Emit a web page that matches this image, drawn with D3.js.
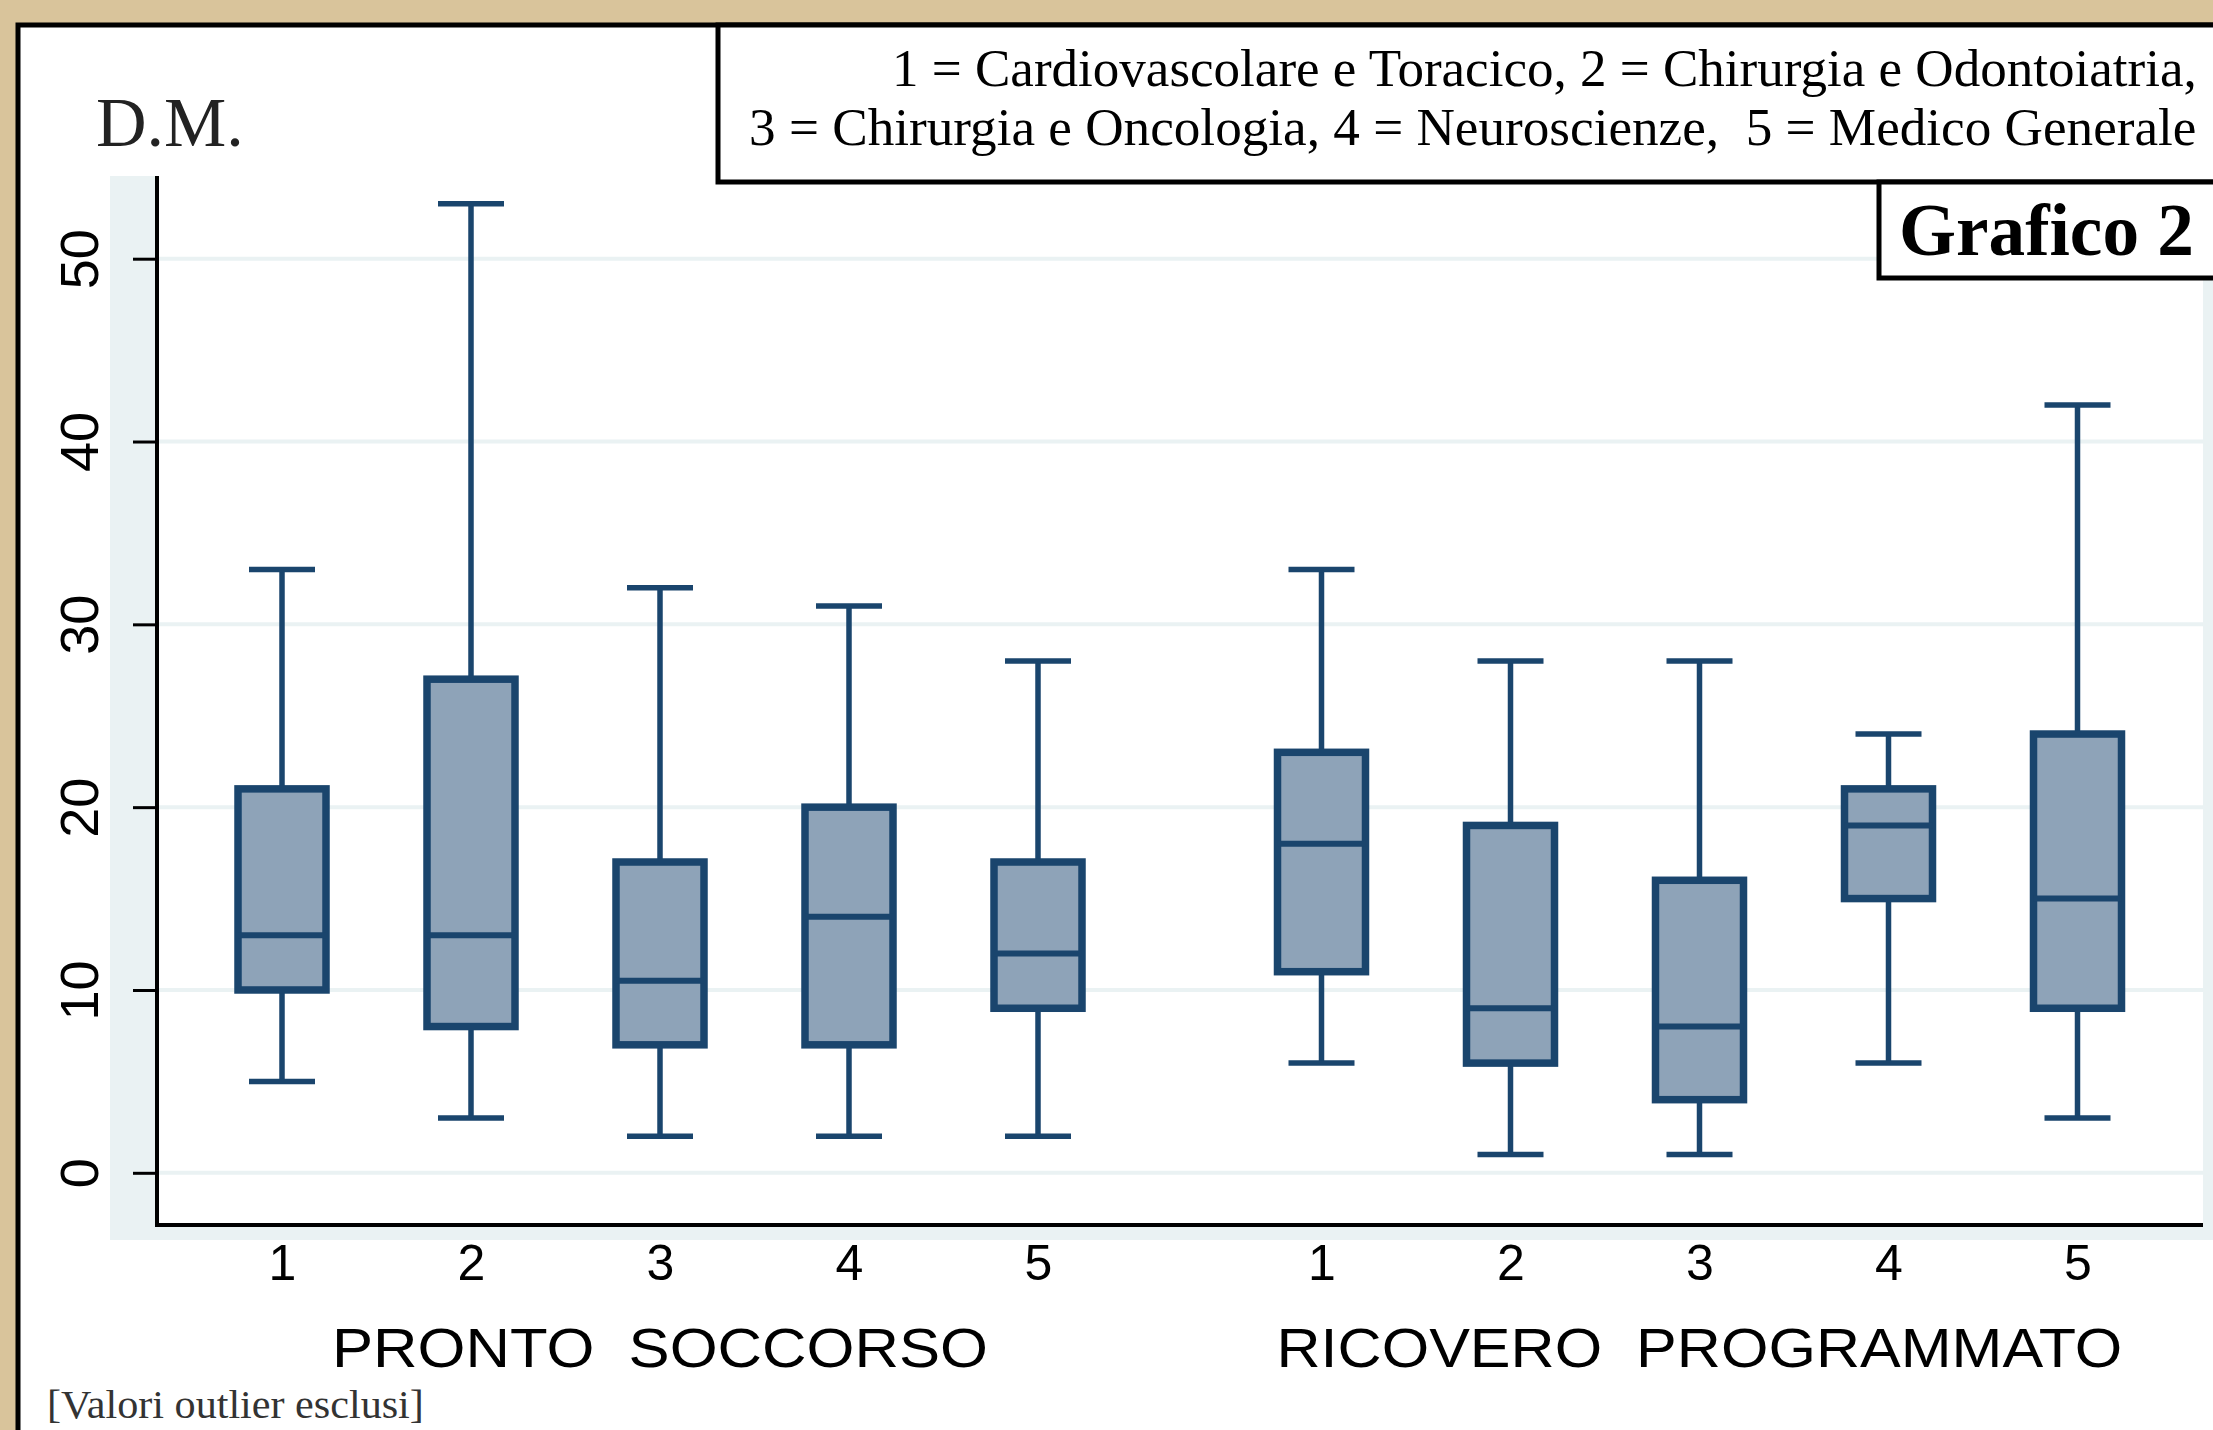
<!DOCTYPE html>
<html lang="it">
<head>
  <meta charset="UTF-8">
  <title>Grafico 2</title>
  <script src="https://cdn.jsdelivr.net/npm/d3@7"></script>
  <style>
    body { margin: 0; background: #d9c49b; }
    svg { display: block; }
  </style>
</head>
<body>
  <div id="grafica"></div>

  <script>
    // dati (D.M., outlier esclusi)
    const gruppi = ['PRONTO  SOCCORSO', 'RICOVERO  PROGRAMMATO']
    const categorie = ['1', '2', '3', '4', '5']
    const minimo  = [5, 3, 2, 2, 2,   6, 1, 1, 6, 3]
    const q1      = [10, 8, 7, 7, 9,  11, 6, 4, 15, 9]
    const mediana = [13, 13, 10.5, 14, 12,  18, 9, 8, 19, 15]
    const q3      = [21, 27, 17, 20, 17,  23, 19, 16, 21, 24]
    const massimo = [33, 53, 32, 31, 28,  33, 28, 28, 24, 42]
    const yTicks  = [0, 10, 20, 30, 40, 50]
    const legenda = [
      '1 = Cardiovascolare e Toracico, 2 = Chirurgia e Odontoiatria,',
      '3 = Chirurgia e Oncologia, 4 = Neuroscienze,  5 = Medico Generale'
    ]

    const ancho = 2213, alto = 1430
    const colBordo = '#1a456d', colBox = '#8ea3b8', colGrid = '#eaf2f3'

    const svg = d3.select('#grafica').append('svg')
      .attr('width', ancho).attr('height', alto)

    // testo compresso in orizzontale fino alla larghezza voluta
    function stringi(t, x0, y0, larghezza) {
      const w = t.node().getComputedTextLength()
      t.attr('x', 0).attr('y', 0)
       .attr('transform', `translate(${x0},${y0}) scale(${larghezza / w},1)`)
    }

    // sfondo e cornice
    svg.append('rect').attr('width', ancho).attr('height', alto).attr('fill', '#d9c49b')
    svg.append('rect').attr('x', 18).attr('y', 25).attr('width', ancho + 20).attr('height', alto)
      .attr('fill', '#fff').attr('stroke', '#000').attr('stroke-width', 5)

    // posizioni: due gruppi di cinque con uno spazio di mezza unita'
    const pos = d3.range(10).map(i => i < 5 ? i : i + 0.5)
    const x = d3.scaleLinear().domain([0, 9.5]).range([282, 2077.5])
    const y = d3.scaleLinear().domain([0, 50]).range([1172.8, 258.7])

    const pLeft = 157, pRight = 2203, pTop = 176, pBottom = 1225

    // regione del grafico
    svg.append('rect').attr('x', 110).attr('y', pTop).attr('width', pRight - 110).attr('height', 1240 - pTop)
      .attr('fill', colGrid)
    svg.append('rect').attr('x', pRight).attr('y', 130).attr('width', 10).attr('height', 1110)
      .attr('fill', colGrid)
    svg.append('rect').attr('x', pLeft).attr('y', pTop).attr('width', pRight - pLeft).attr('height', pBottom - pTop)
      .attr('fill', '#fff')

    // griglia
    svg.append('g').selectAll('line').data(yTicks).enter().append('line')
      .attr('x1', pLeft).attr('x2', pRight)
      .attr('y1', d => y(d)).attr('y2', d => y(d))
      .attr('stroke', colGrid).attr('stroke-width', 4)

    // asse y
    const gy = svg.append('g').attr('transform', `translate(${pLeft},0)`)
      .call(d3.axisLeft(y).tickValues(yTicks).tickSize(24).tickPadding(0))
    gy.select('.domain').remove()
    gy.selectAll('.tick line').attr('stroke', '#000').attr('stroke-width', 3)
    gy.selectAll('.tick text')
      .attr('transform', 'translate(-59,0) rotate(-90)')
      .attr('x', 0).attr('dy', 0).attr('y', 0)
      .attr('text-anchor', 'middle')
      .style('font-family', 'Liberation Sans, Arial, sans-serif')
      .style('font-size', '54px').attr('fill', '#000')

    svg.append('line').attr('x1', pLeft).attr('x2', pLeft).attr('y1', pTop).attr('y2', pBottom + 2)
      .attr('stroke', '#000').attr('stroke-width', 4)
    svg.append('line').attr('x1', pLeft - 2).attr('x2', pRight).attr('y1', pBottom).attr('y2', pBottom)
      .attr('stroke', '#000').attr('stroke-width', 4)

    // asse x (solo etichette)
    const gx = svg.append('g').attr('transform', `translate(0,${pBottom})`)
      .call(d3.axisBottom(x).tickValues(pos).tickSize(0).tickPadding(0)
        .tickFormat((d, i) => categorie[i % 5]))
    gx.select('.domain').remove()
    gx.selectAll('.tick text').attr('y', 55).attr('dy', 0)
      .style('font-family', 'Liberation Sans, Arial, sans-serif')
      .style('font-size', '50px').attr('fill', '#000')

    // nomi dei gruppi
    const centri = [(x(0) + x(4)) / 2, (x(5.5) + x(9.5)) / 2]
    const larghezze = [656, 846]
    svg.append('g').selectAll('text').data(gruppi).enter().append('text')
      .style('white-space', 'pre')
      .style('font-family', 'Liberation Sans, Arial, sans-serif').style('font-size', '56px')
      .text(d => d)
      .each(function(d, i) { stringi(d3.select(this), centri[i] - larghezze[i] / 2, 1367, larghezze[i]) })

    // box plot
    const boxW = 88, capW = 66
    const boxes = svg.append('g').selectAll('g').data(pos).enter().append('g')

    boxes.append('line')
      .attr('x1', d => x(d)).attr('x2', d => x(d))
      .attr('y1', (d, i) => y(massimo[i])).attr('y2', (d, i) => y(q3[i]))
      .attr('stroke', colBordo).attr('stroke-width', 5.5)
    boxes.append('line')
      .attr('x1', d => x(d)).attr('x2', d => x(d))
      .attr('y1', (d, i) => y(q1[i])).attr('y2', (d, i) => y(minimo[i]))
      .attr('stroke', colBordo).attr('stroke-width', 5.5)
    boxes.append('line')
      .attr('x1', d => x(d) - capW / 2).attr('x2', d => x(d) + capW / 2)
      .attr('y1', (d, i) => y(massimo[i])).attr('y2', (d, i) => y(massimo[i]))
      .attr('stroke', colBordo).attr('stroke-width', 5.5)
    boxes.append('line')
      .attr('x1', d => x(d) - capW / 2).attr('x2', d => x(d) + capW / 2)
      .attr('y1', (d, i) => y(minimo[i])).attr('y2', (d, i) => y(minimo[i]))
      .attr('stroke', colBordo).attr('stroke-width', 5.5)
    boxes.append('rect')
      .attr('x', d => x(d) - boxW / 2).attr('width', boxW)
      .attr('y', (d, i) => y(q3[i])).attr('height', (d, i) => y(q1[i]) - y(q3[i]))
      .attr('fill', colBox).attr('stroke', colBordo).attr('stroke-width', 7.5)
    boxes.append('line')
      .attr('x1', d => x(d) - boxW / 2).attr('x2', d => x(d) + boxW / 2)
      .attr('y1', (d, i) => y(mediana[i])).attr('y2', (d, i) => y(mediana[i]))
      .attr('stroke', colBordo).attr('stroke-width', 6)

    // titolo asse
    svg.append('text').attr('x', 96).attr('y', 146)
      .style('font-family', 'Liberation Serif, Times New Roman, serif').style('font-size', '70px')
      .attr('fill', '#222').text('D.M.')

    // legenda
    svg.append('rect').attr('x', 718).attr('y', 25).attr('width', 1600).attr('height', 157)
      .attr('fill', '#fff').attr('stroke', '#000').attr('stroke-width', 5)
    const larghLeg = [1305, 1448]
    svg.append('g').selectAll('text').data(legenda).enter().append('text')
      .style('white-space', 'pre')
      .style('font-family', 'Liberation Serif, Times New Roman, serif').style('font-size', '53px')
      .text(d => d)
      .each(function(d, i) { stringi(d3.select(this), 2197 - larghLeg[i], 86 + i * 59, larghLeg[i]) })

    svg.append('rect').attr('x', 1879).attr('y', 182).attr('width', 600).attr('height', 96)
      .attr('fill', '#fff').attr('stroke', '#000').attr('stroke-width', 5)
    const titolo = svg.append('text')
      .style('font-family', 'Liberation Serif, Times New Roman, serif').style('font-size', '74px')
      .style('font-weight', 'bold').text('Grafico 2')
    stringi(titolo, 1899, 255, 295)

    // nota
    const nota = svg.append('text')
      .style('font-family', 'Liberation Serif, Times New Roman, serif').style('font-size', '40px')
      .attr('fill', '#333').text('[Valori outlier esclusi]')
    stringi(nota, 47, 1418, 377)
  </script>
</body>
</html>
